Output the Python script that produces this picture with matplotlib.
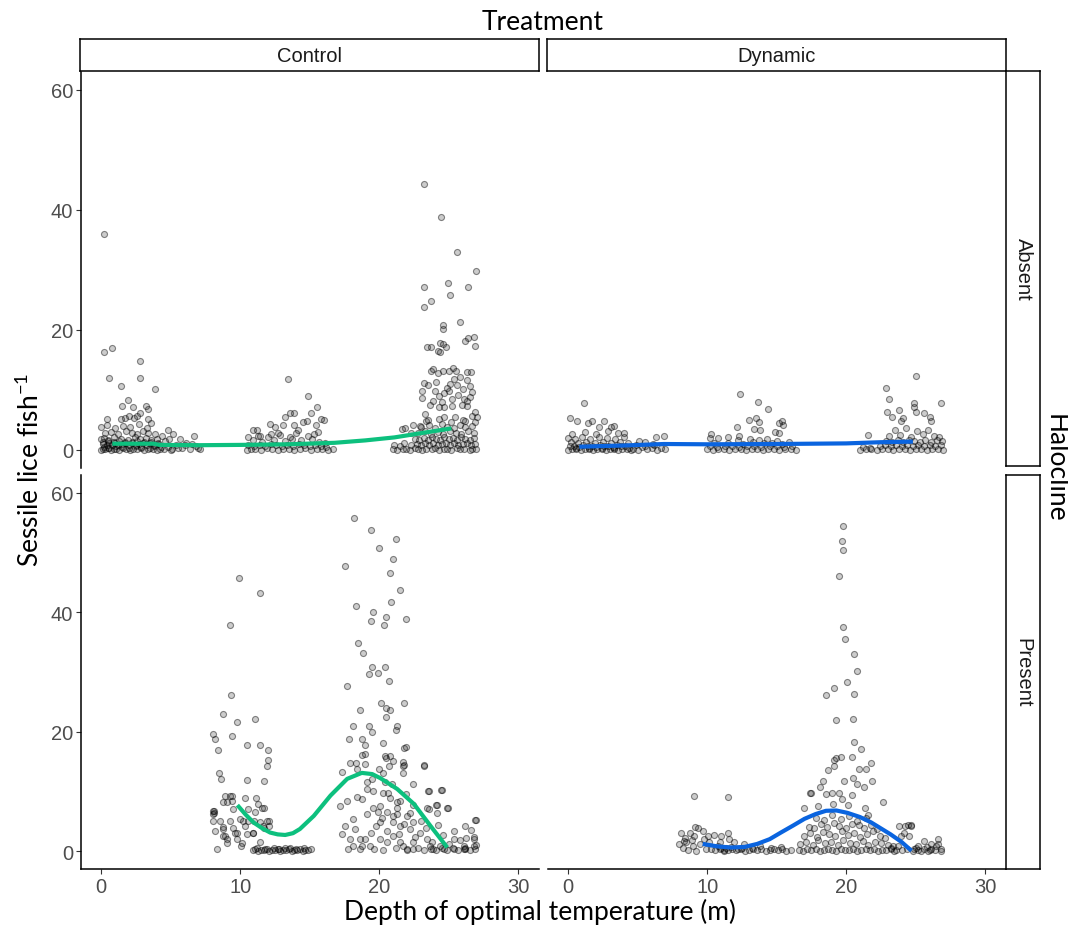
import numpy as np
import matplotlib.pyplot as plt

# ---- data: (depth, sessile lice per fish) ----
# Control / Absent
ca_x1 = [0.2, 0.2, 0.8, 0.6, 2.8, 2.8, 1.4, 3.9, 1.9, 1.5, 2.3, 3.2, 3.4, 2.8, 1.4, 1.7, 2.0, 2.35, 2.6, 0.4, 3.4, 3.6, 4.8, 5.2, 5.7, 6.7]
ca_y1 = [36.0, 16.4, 17.0, 12.0, 14.9, 12.0, 10.7, 10.1, 8.3, 7.3, 7.2, 7.3, 6.8, 6.1, 5.2, 5.4, 5.6, 5.4, 5.7, 5.2, 5.2, 4.5, 3.3, 2.6, 1.9, 2.3]
ca_x2 = [0.0, 0.1, 0.3, 0.5, 0.7, 0.9, 1.1, 1.3, 1.6, 1.8, 2.1, 2.3, 2.6, 2.9, 3.1, 3.4, 3.7, 4.0, 4.2,
         0.1, 0.4, 0.6, 0.8, 1.0, 1.2, 1.5, 1.7, 2.0, 2.2, 2.5, 2.7, 3.0, 3.3, 3.5, 3.8, 4.1,
         0.0, 0.2, 0.5, 0.9, 1.4, 1.9, 2.4, 2.8, 3.2, 3.6, 4.0,
         0.3, 0.7, 1.2, 1.8, 2.2, 2.6, 3.0, 3.4, 3.9,
         0.0, 0.4, 1.0, 1.6, 2.1, 2.7, 3.3,
         0.2, 0.6, 1.1, 1.5, 2.0, 2.5, 2.9, 3.5, 3.8, 4.3,
         0.1, 0.5, 0.9, 1.3, 1.7, 2.2, 2.6, 3.1, 3.6, 4.1]
ca_y2 = [0.0, 0.2, 0.1, 0.3, 0.0, 0.2, 0.1, 0.0, 0.3, 0.1, 0.0, 0.2, 0.1, 0.3, 0.0, 0.2, 0.1, 0.0, 0.2,
         1.0, 0.8, 1.2, 0.9, 1.1, 0.8, 1.0, 1.2, 0.9, 1.1, 0.8, 1.0, 1.2, 0.9, 1.1, 0.8, 1.0,
         1.8, 2.0, 1.6, 2.2, 1.9, 1.7, 2.1, 1.8, 2.0, 1.6, 1.9,
         2.8, 3.0, 2.6, 3.2, 2.9, 2.7, 3.1, 2.8, 2.6,
         3.9, 4.2, 3.7, 4.0, 3.8, 4.3, 3.6,
         0.5, 0.4, 0.6, 0.5, 0.4, 0.6, 0.5, 0.4, 0.6, 0.5,
         1.4, 1.5, 1.3, 1.5, 1.4, 1.3, 1.5, 1.4, 1.3, 1.2]
ca_x3 = [4.5, 4.8, 5.1, 5.4, 5.8, 6.1, 6.4, 6.8, 7.1, 4.6, 5.0, 5.5, 6.0, 6.5, 7.0, 4.4, 4.9]
ca_y3 = [0.2, 0.5, 0.1, 0.9, 0.3, 1.2, 0.1, 0.6, 0.2, 1.5, 0.0, 0.4, 0.8, 1.0, 0.3, 2.4, 1.9]
ca_x4 = [13.45, 14.85, 15.56, 13.2, 13.6, 13.9, 14.5, 14.8, 15.1, 15.85, 16.0, 12.16, 12.5, 13.07, 13.86, 14.17, 15.47, 10.9, 11.2, 10.6, 11.4, 12.2, 12.7]
ca_y4 = [11.8, 9.0, 7.2, 5.5, 6.2, 6.2, 4.6, 4.8, 6.1, 5.2, 5.0, 4.4, 3.9, 4.1, 4.1, 3.3, 4.1, 3.3, 3.4, 2.2, 2.3, 2.6, 2.9]
ca_x5 = [10.5, 10.8, 11.1, 11.5, 11.9, 12.3, 12.7, 13.1, 13.5, 13.9, 14.3, 14.7, 15.1, 15.5, 15.9, 16.3, 16.7,
         10.6, 11.0, 11.4, 11.8, 12.2, 12.6, 13.0, 13.4, 13.8, 14.2, 14.6, 15.0, 15.4, 15.8, 16.2,
         10.9, 11.6, 12.4, 13.2, 13.7, 14.4, 15.2, 15.7, 16.1,
         11.3, 12.0, 12.9, 13.6, 14.0, 14.9, 15.3, 15.6]
ca_y5 = [0.0, 0.2, 0.1, 0.0, 0.3, 0.1, 0.0, 0.2, 0.1, 0.0, 0.2, 0.3, 0.0, 0.1, 0.2, 0.0, 0.1,
         0.8, 0.6, 0.9, 0.7, 1.0, 0.8, 0.6, 0.9, 0.7, 1.0, 0.8, 0.6, 0.9, 0.7, 0.5,
         1.6, 1.4, 1.7, 1.5, 1.8, 1.6, 1.9, 1.4, 1.2,
         2.4, 2.2, 2.5, 2.1, 2.8, 2.3, 2.6, 3.0]
ca_x6 = [23.26, 24.46, 25.6, 26.96, 23.26, 24.96, 25.1, 26.4, 23.7, 23.26, 24.6, 24.6, 25.8, 24.4, 24.6, 24.8,
         23.7, 24.2, 24.4, 26.2, 26.4, 26.8, 26.9, 23.7, 23.9, 24.2, 24.6, 25.0, 25.3, 25.5, 26.3, 26.6,
         24.03, 24.27, 24.63, 24.99, 25.1, 25.59, 25.83, 26.35, 26.55, 25.23, 26.07, 26.55, 23.67, 24.27, 24.63,
         25.23, 25.95, 26.35, 26.9, 27.03, 26.67, 23.31, 23.55, 24.63, 25.47, 26.19, 22.47, 21.87, 21.63, 22.95,
         23.43, 23.1, 23.1, 23.5, 24.1, 24.9, 25.4, 26.0, 26.7, 23.9, 24.5, 25.7, 26.3, 23.2, 22.3]
ca_y6 = [44.3, 38.9, 33.0, 29.8, 27.2, 27.8, 25.9, 27.1, 24.8, 23.9, 20.9, 20.2, 21.3, 17.9, 17.7, 17.2,
         17.2, 16.5, 16.3, 18.2, 18.6, 18.8, 17.4, 13.2, 13.5, 12.8, 13.2, 13.2, 13.6, 13.2, 13.0, 13.0,
         9.9, 9.05, 9.45, 9.9, 11.0, 10.8, 12.1, 11.7, 10.6, 8.5, 8.5, 8.9, 7.5, 7.1, 7.1,
         7.4, 7.5, 7.4, 6.3, 5.45, 5.7, 6.0, 5.05, 5.45, 5.45, 4.9, 4.2, 3.6, 3.5, 4.05,
         17.2, 9.8, 8.6, 10.8, 11.4, 10.3, 11.8, 10.2, 9.6, 8.2, 8.0, 9.2, 8.1, 11.1, 2.9]
ca_x7 = [21.0, 21.3, 21.7, 21.9, 22.2, 22.6, 22.8, 23.1, 23.4, 23.8, 24.0, 24.3, 24.7, 24.9, 25.2, 25.6, 25.8, 26.1, 26.5, 26.7, 27.0,
         21.1, 21.5, 21.8, 22.3, 22.7, 23.0, 23.3, 23.6, 23.9, 24.2, 24.5, 24.8, 25.1, 25.4, 25.7, 26.0, 26.3, 26.6, 26.9,
         22.6, 22.9, 23.2, 23.5, 23.8, 24.1, 24.4, 24.7, 25.0, 25.3, 25.6, 25.9, 26.2, 26.5, 26.8,
         22.8, 23.3, 23.7, 24.2, 24.6, 25.1, 25.5, 25.9, 26.4, 26.8,
         23.0, 23.6, 24.0, 24.5, 24.9, 25.4, 25.8, 26.2, 26.7,
         23.4, 24.3, 25.2, 26.0, 26.9]
ca_y7 = [0.1, 0.0, 0.2, 0.1, 0.0, 0.3, 0.1, 0.0, 0.2, 0.1, 0.3, 0.0, 0.2, 0.1, 0.0, 0.3, 0.1, 0.2, 0.0, 0.1, 0.2,
         0.9, 0.7, 1.1, 0.8, 1.0, 0.9, 1.2, 0.8, 1.1, 0.9, 1.0, 1.2, 0.8, 1.1, 0.9, 1.0, 1.2, 0.8, 1.0,
         1.8, 1.6, 2.0, 1.7, 2.1, 1.9, 1.6, 2.2, 1.8, 2.0, 1.7, 2.1, 1.9, 1.6, 2.0,
         2.8, 3.1, 2.6, 3.0, 2.7, 3.2, 2.9, 2.6, 3.1, 2.8,
         3.8, 4.1, 3.6, 4.3, 3.9, 3.7, 4.2, 3.8, 4.0,
         4.9, 5.2, 4.7, 5.0, 4.6]

# Dynamic / Absent
da_x1 = [1.17, 0.14, 0.62, 1.72, 1.41, 2.61, 2.25, 3.33, 3.09, 4.05, 5.13, 5.56, 6.32, 6.88, 6.09]
da_y1 = [7.9, 5.4, 4.9, 4.9, 4.45, 4.9, 3.9, 4.05, 3.9, 2.8, 1.55, 1.3, 2.1, 2.3, 1.0]
da_x2 = [0.0, 0.3, 0.6, 0.9, 1.2, 1.5, 1.8, 2.1, 2.4, 2.7, 3.0, 3.3, 3.6, 3.9, 4.2, 4.5,
         0.1, 0.4, 0.8, 1.1, 1.4, 1.7, 2.0, 2.3, 2.6, 2.9, 3.2, 3.5, 3.8, 4.1,
         0.2, 0.7, 1.3, 1.9, 2.5, 3.1, 3.7, 4.3,
         0.0, 0.5, 1.0, 1.6, 2.2, 2.8, 3.4, 4.0,
         0.3, 1.2, 2.0, 2.9, 3.6,
         0.6, 1.5, 2.4, 3.3, 4.4]
da_y2 = [0.0, 0.1, 0.2, 0.0, 0.1, 0.2, 0.0, 0.1, 0.2, 0.0, 0.1, 0.2, 0.0, 0.1, 0.2, 0.0,
         0.6, 0.7, 0.5, 0.8, 0.6, 0.7, 0.5, 0.8, 0.6, 0.7, 0.5, 0.8, 0.6, 0.7,
         1.3, 1.1, 1.4, 1.2, 1.3, 1.1, 1.4, 1.2,
         2.0, 1.8, 2.1, 1.9, 2.2, 2.0, 1.8, 2.1,
         2.7, 3.0, 2.6, 3.1, 2.8,
         0.3, 0.4, 0.3, 0.4, 0.3]
da_x3 = [4.7, 5.0, 5.3, 5.7, 6.0, 6.4, 6.7, 7.0, 4.9, 5.5, 6.2]
da_y3 = [0.2, 0.0, 0.5, 0.1, 0.3, 0.0, 0.4, 0.1, 0.8, 0.6, 0.9]
da_x4 = [12.35, 13.64, 14.36, 13.0, 13.55, 13.7, 12.13, 12.3, 13.4, 13.8, 15.37, 15.15, 15.49, 14.9, 15.2, 10.2, 10.76, 11.48, 10.3]
da_y4 = [9.3, 8.05, 6.8, 5.05, 5.4, 4.7, 3.8, 2.3, 3.5, 3.4, 4.9, 4.5, 4.2, 2.95, 2.8, 1.95, 2.0, 2.1, 2.7]
da_x5 = [10.0, 10.4, 10.8, 11.2, 11.6, 12.0, 12.4, 12.8, 13.2, 13.6, 14.0, 14.4, 14.8, 15.2, 15.6, 16.0, 16.4,
         10.2, 10.7, 11.3, 11.8, 12.3, 12.9, 13.4, 13.9, 14.5, 15.0, 15.5, 16.1,
         10.5, 11.5, 12.6, 13.3, 14.1, 14.7, 15.4, 15.9,
         12.2, 13.1, 13.7, 14.3, 15.0]
da_y5 = [0.1, 0.0, 0.2, 0.1, 0.0, 0.2, 0.1, 0.0, 0.2, 0.1, 0.0, 0.2, 0.1, 0.0, 0.2, 0.1, 0.0,
         0.6, 0.5, 0.7, 0.6, 0.5, 0.7, 0.6, 0.5, 0.7, 0.6, 0.5, 0.7,
         1.1, 1.2, 1.0, 1.3, 1.1, 1.2, 1.0, 1.3,
         1.7, 1.8, 1.6, 1.9, 1.5]
da_x6 = [24.99, 22.87, 23.1, 24.9, 24.85, 25.0, 26.83, 22.94, 23.8, 24.07, 23.28, 23.95, 25.63, 26.0, 26.1, 21.55]
da_y6 = [12.4, 10.3, 8.45, 7.9, 7.1, 6.3, 7.9, 6.4, 6.7, 5.3, 5.45, 4.9, 6.2, 5.45, 4.9, 2.5]
da_x7 = [21.0, 21.4, 21.8, 22.2, 22.6, 23.0, 23.4, 23.8, 24.2, 24.6, 25.0, 25.4, 25.8, 26.2, 26.6, 27.0,
         21.2, 21.7, 22.4, 22.8, 23.2, 23.6, 24.0, 24.4, 24.8, 25.2, 25.6, 26.0, 26.4, 26.8,
         22.9, 23.3, 23.7, 24.1, 24.5, 24.9, 25.3, 25.7, 26.1, 26.5, 26.9,
         23.1, 23.9, 24.7, 25.5, 26.3, 26.7,
         23.5, 24.3, 25.1, 25.9]
da_y7 = [0.0, 0.1, 0.2, 0.0, 0.1, 0.2, 0.0, 0.1, 0.2, 0.0, 0.1, 0.2, 0.0, 0.1, 0.2, 0.0,
         0.5, 0.4, 0.6, 0.8, 0.7, 0.9, 0.6, 0.8, 0.7, 0.9, 0.6, 0.8, 0.7, 0.9,
         1.5, 1.3, 1.6, 1.4, 1.7, 1.5, 1.3, 1.6, 1.4, 1.7, 1.5,
         2.3, 2.5, 2.2, 2.6, 2.4, 2.1,
         3.3, 3.6, 3.1, 3.4]

# Control / Present
cp_x1 = [18.18, 19.4, 21.2, 20.0, 21.0, 17.55, 20.77, 9.9, 11.4, 21.5,
         20.84, 18.35, 19.57, 19.4, 20.5, 20.36, 21.96, 9.28, 18.5, 18.85,
         19.5, 19.3, 19.9, 20.45, 20.7, 17.7, 9.35, 20.1, 20.5, 20.77,
         21.8, 20.5, 18.6, 8.8, 9.8, 11.1, 18.1, 19.3, 19.5, 21.3,
         21.2, 8.08, 8.22, 9.4, 8.4, 10.5, 11.4, 12.0, 17.8, 18.8,
         19.0, 20.3, 21.8, 19.0, 12.0, 11.9, 8.46, 8.6, 10.5, 11.7,
         17.9, 18.3, 20.5, 20.8, 21.0, 21.8, 21.7, 23.2, 22.4,
         17.3, 18.4, 20.0, 20.3, 20.7]
cp_y1 = [55.8, 53.8, 52.3, 50.8, 48.9, 47.8, 46.6, 45.7, 43.3, 43.7,
         41.8, 41.0, 40.1, 38.6, 39.2, 37.9, 38.8, 37.9, 34.9, 33.2,
         30.8, 29.6, 29.8, 30.9, 28.5, 27.6, 26.1, 24.8, 23.9, 23.7,
         24.8, 22.4, 23.7, 22.9, 21.6, 22.2, 21.0, 21.0, 19.9, 20.9,
         20.3, 19.6, 18.8, 19.2, 17.0, 17.7, 17.7, 17.0, 18.8, 18.8,
         17.7, 18.1, 17.3, 16.2, 15.3, 14.3, 13.1, 12.1, 11.9, 11.7,
         14.7, 14.7, 15.6, 16.0, 15.1, 14.5, 13.0, 14.3, 11.3,
         13.2, 13.8, 13.8, 13.1, 14.2]
cp_x2 = [9.28, 8.8, 9.4, 10.36, 11.15, 11.3, 11.56, 10.6, 9.5, 8.08, 8.08, 9.28, 10.0, 8.8, 10.6, 11.0, 11.4, 11.7,
         11.9, 10.36, 9.64, 8.8, 9.76, 10.1, 9.04, 8.3, 10.96,
         8.15, 8.15, 8.03, 8.56, 8.2, 8.8, 8.94, 9.04, 9.52, 9.76, 10.24, 10.48, 10.07, 11.63, 11.44, 10.96,
         11.08, 11.68, 9.04, 8.94, 9.42, 12.04, 12.04]
cp_y2 = [9.27, 8.15, 8.4, 8.9, 8.9, 7.9, 7.3, 7.0, 7.0, 6.75, 6.2, 5.1, 5.4, 4.0, 5.1, 5.1, 4.8, 3.8,
         5.1, 4.25, 3.1, 2.6, 2.0, 1.35, 1.35, 0.3, 3.0,
         6.75, 6.3, 4.97, 4.97, 3.3, 3.7, 2.57, 2.0, 3.85, 3.1, 4.97, 2.85, 0.9, 4.25, 1.6, 2.95,
         6.5, 7.3, 8.15, 9.27, 9.27, 5.1, 4.25]
cp_x3 = [10.9, 11.1, 11.3, 11.5, 11.7, 11.9, 12.1, 12.3, 12.5, 12.7, 12.9, 13.1, 13.3, 13.5, 13.7, 13.9, 14.1,
         14.3, 14.5, 14.7, 14.9, 15.1, 11.2, 11.8, 12.4, 12.8, 13.2, 13.6, 14.0, 14.6]
cp_y3 = [0.1, 0.3, 0.0, 0.2, 0.1, 0.3, 0.0, 0.2, 0.1, 0.3, 0.0, 0.2, 0.1, 0.3, 0.0, 0.2, 0.1,
         0.3, 0.0, 0.2, 0.1, 0.3, 0.5, 0.4, 0.6, 0.4, 0.5, 0.6, 0.4, 0.5]
cp_x4 = [18.75, 20.4, 21.75, 21.75, 23.2, 21.9, 19.0,
         19.11, 19.59, 20.31, 20.67, 21.51, 21.27, 23.55, 24.51, 23.43, 24.15, 24.87, 26.91, 26.19,
         18.4, 17.68, 17.19, 17.55, 18.15, 18.27, 17.32, 17.91, 18.63, 18.99, 19.11, 19.59, 20.07,
         20.55, 21.27, 21.99, 20.07, 21.03, 21.51, 22.47, 22.23, 22.95, 21.03, 20.07, 20.55, 21.51,
         22.47, 23.43, 23.67, 24.38, 25.35, 26.07, 26.79, 26.79, 26.19, 25.35, 24.63, 23.9, 22.47,
         21.99, 21.75, 19.35, 18.76, 18.63, 18.15, 17.79, 18.76, 19.47, 20.43, 20.92, 19.11,
         23.6, 24.48, 24.08, 24.17, 24.96, 26.98, 26.83, 26.26, 23.6]
cp_y4 = [16.1, 16.0, 15.0, 14.2, 14.4, 17.4, 14.6,
         10.4, 10.1, 9.8, 9.8, 8.4, 8.15, 10.0, 10.2, 7.15, 7.7, 7.3, 5.25, 4.25,
         9.0, 8.4, 7.6, 4.25, 5.4, 3.7, 2.85, 2.0, 2.0, 2.0, 6.2, 7.3, 7.6,
         6.5, 6.2, 5.9, 4.8, 4.8, 4.25, 4.8, 3.7, 3.1, 2.6, 2.0, 1.45, 1.45,
         1.45, 2.0, 0.9, 0.9, 2.0, 0.9, 2.0, 0.9, 0.33, 0.33, 0.33, 0.33, 0.33,
         0.33, 0.9, 0.9, 0.9, 0.33, 0.9, 0.33, 8.7, 12.1, 11.5, 11.2, 11.5,
         10.0, 10.2, 7.76, 6.3, 7.2, 5.2, 2.4, 2.2, 7.0]
cp_x5 = [19.4, 19.8, 20.2, 20.6, 21.0, 21.4, 21.8, 22.2, 22.6, 23.0, 23.4, 23.8, 24.2, 24.6, 25.0, 25.4, 25.8, 26.2, 26.6, 27.0,
         19.6, 20.3, 21.2, 22.0, 22.8, 23.2, 23.7, 24.1, 24.5, 24.9, 25.3, 25.7, 26.1, 26.5, 26.9,
         21.3, 22.4, 20.8, 21.9, 19.9]
cp_y5 = [3.1, 4.2, 5.5, 3.4, 5.9, 2.9, 4.6, 6.4, 2.4, 5.1, 3.8, 1.6, 4.4, 2.7, 1.2, 3.3, 1.8, 0.6, 3.6, 1.0,
         0.4, 0.2, 0.6, 0.2, 0.5, 0.1, 0.4, 0.1, 0.6, 0.2, 0.5, 0.1, 0.4, 0.1, 0.3,
         7.2, 7.8, 8.9, 9.6, 6.6]

# Dynamic / Present
dp_x1 = [19.75, 19.7, 19.8, 19.5, 19.8, 19.9, 20.6, 20.8, 20.07, 19.1, 18.55, 20.6, 19.3, 20.5, 20.55,
         21.1, 19.3, 19.6, 19.16, 20.4, 21.8, 21.4, 20.9, 19.1, 18.7]
dp_y1 = [54.4, 52.0, 50.5, 46.0, 37.5, 35.5, 33.0, 30.2, 28.4, 27.3, 26.1, 26.3, 22.0, 22.2, 18.3,
         17.1, 15.6, 15.7, 15.3, 15.7, 14.7, 13.7, 13.8, 14.2, 13.6]
dp_x2 = [18.37, 18.15, 17.45, 19.83, 20.47, 20.76, 21.3, 21.86, 20.4, 19.47, 18.99, 18.55, 19.7, 20.1, 19.04,
         17.96, 17.0, 21.36, 21.6, 22.63, 17.4, 9.04, 11.5]
dp_y2 = [11.8, 10.8, 9.7, 11.8, 12.2, 11.3, 10.8, 11.8, 9.4, 9.8, 9.7, 9.55, 8.7, 7.7, 7.9,
         7.6, 7.15, 7.3, 6.0, 8.15, 9.65, 9.3, 9.1]
dp_x3 = [8.12, 8.73, 9.13, 9.32, 9.04, 8.48, 8.0, 8.24, 9.2, 9.8, 10.16, 10.52, 11.0, 11.53, 9.92, 10.76,
         11.36, 11.6, 11.96, 12.68, 12.2, 10.04, 8.4, 8.9, 9.5, 9.7, 10.3, 8.6, 9.0, 10.9, 11.2, 8.3]
dp_y3 = [3.0, 3.1, 4.1, 3.8, 2.45, 1.45, 1.15, 0.45, 0.0, 2.1, 1.45, 2.7, 2.55, 3.1, 0.35, 0.9,
         0.6, 2.1, 1.45, 1.15, 0.35, 2.55, 2.2, 1.9, 1.2, 3.4, 0.4, 0.2, 0.8, 1.6, 0.2, 1.7]
dp_x4 = [10.6, 10.9, 11.2, 11.5, 11.8, 12.1, 12.4, 12.7, 13.0, 13.3, 13.6, 13.9, 14.2, 14.5, 14.8, 15.1, 15.4,
         15.7, 16.0, 11.0, 11.7, 12.5, 13.2, 13.8, 14.6, 15.3]
dp_y4 = [0.1, 0.3, 0.0, 0.2, 0.4, 0.1, 0.3, 0.0, 0.2, 0.4, 0.1, 0.3, 0.0, 0.2, 0.4, 0.1, 0.3,
         0.0, 0.2, 0.6, 0.7, 0.5, 0.6, 0.8, 0.5, 0.7]
dp_x5 = [16.6, 16.9, 17.2, 17.5, 17.8, 18.1, 18.4, 18.7, 19.0, 19.3, 19.6, 19.9, 20.2, 20.5, 20.8, 21.1, 21.4,
         21.7, 22.0, 22.3, 22.6, 22.9, 23.2,
         16.7, 17.1, 17.6, 18.0, 18.5, 18.9, 19.4, 19.8, 20.3, 20.7, 21.2, 21.6, 22.1, 22.5, 23.0, 23.4,
         17.0, 17.4, 17.9, 18.3, 18.8, 19.2, 19.7, 20.1, 20.6, 21.0, 21.5, 21.9, 22.4, 22.8,
         17.3, 17.7, 18.2, 18.6, 19.1, 19.5, 20.0, 20.4, 20.9, 21.3, 21.8, 22.2,
         17.8, 18.4, 19.0, 19.6, 20.2, 20.8, 21.4]
dp_y5 = [0.2, 0.0, 0.3, 0.1, 0.4, 0.0, 0.2, 0.3, 0.1, 0.0, 0.4, 0.2, 0.1, 0.3, 0.0, 0.2, 0.4,
         0.1, 0.3, 0.0, 0.2, 0.1, 0.3,
         1.2, 1.6, 1.0, 1.8, 1.3, 1.5, 1.1, 1.9, 1.4, 1.2, 1.7, 1.0, 1.5, 1.3, 1.1, 0.9,
         2.6, 3.0, 2.4, 3.2, 2.8, 2.5, 3.3, 2.7, 3.1, 2.4, 2.9, 3.4, 2.6, 2.2,
         4.1, 3.8, 4.5, 4.0, 4.7, 4.2, 3.9, 4.6, 4.3, 3.8, 4.4, 3.7,
         5.6, 5.2, 6.0, 5.4, 5.8, 5.1, 5.5]
dp_x6 = [23.83, 24.2, 24.67, 24.43, 24.67, 24.19, 24.55, 23.95, 25.15, 25.63, 26.1, 26.6, 26.47, 26.83, 25.87,
         25.39, 24.91, 26.1, 23.71, 23.23, 23.47, 26.6,
         23.6, 24.0, 24.4, 24.8, 25.2, 25.6, 26.0, 26.4, 26.8, 25.0, 25.8]
dp_y6 = [4.25, 4.25, 4.25, 4.35, 4.35, 3.0, 2.55, 2.55, 0.9, 1.7, 1.15, 2.0, 0.9, 0.05, 0.05,
         0.05, 0.35, 0.35, 0.9, 0.6, 0.05, 1.15,
         0.2, 0.1, 0.3, 0.0, 0.2, 0.4, 0.1, 0.2, 0.4, 0.6, 0.7]

# smoothed trends
ca_fit_x = [0.8, 2.0, 3.8, 4.2, 7.0, 10.0, 13.4, 16.8, 19.0, 21.1, 23.0, 25.2]
ca_fit_y = [1.05, 1.05, 1.05, 0.85, 0.8, 0.85, 0.95, 1.2, 1.6, 2.1, 2.8, 3.6]
da_fit_x = [0.8, 4.0, 6.9, 10.0, 15.0, 20.0, 22.5, 24.8]
da_fit_y = [0.55, 0.75, 1.0, 0.95, 1.0, 1.1, 1.3, 1.4]
cp_fit_x = [9.8, 10.4, 10.96, 11.6, 12.16, 12.7, 13.24, 13.8, 14.3, 15.3, 16.5, 17.7, 18.75, 19.5, 20.1, 21.3, 22.5, 23.7, 24.9]
cp_fit_y = [7.7, 6.1, 4.8, 3.8, 3.1, 2.8, 2.7, 3.0, 3.7, 5.9, 9.3, 12.1, 13.1, 12.9, 12.2, 10.4, 7.9, 4.2, 0.6]
dp_fit_x = [9.68, 10.7, 11.7, 12.7, 13.6, 14.5, 15.3, 16.2, 17.0, 17.8, 18.55, 19.3, 20.1, 21.0, 21.8, 22.5, 23.2, 24.0, 24.7]
dp_fit_y = [1.2, 0.8, 0.6, 0.7, 1.2, 2.0, 3.1, 4.3, 5.4, 6.2, 6.75, 6.8, 6.4, 5.7, 4.8, 3.8, 2.8, 1.5, 0.05]

GREEN = '#0DC07E'
BLUE = '#0A64DF'
panels = {
    ('Control', 'Absent'): (ca_x1 + ca_x2 + ca_x3 + ca_x4 + ca_x5 + ca_x6 + ca_x7,
                            ca_y1 + ca_y2 + ca_y3 + ca_y4 + ca_y5 + ca_y6 + ca_y7, ca_fit_x, ca_fit_y, GREEN),
    ('Dynamic', 'Absent'): (da_x1 + da_x2 + da_x3 + da_x4 + da_x5 + da_x6 + da_x7,
                            da_y1 + da_y2 + da_y3 + da_y4 + da_y5 + da_y6 + da_y7, da_fit_x, da_fit_y, BLUE),
    ('Control', 'Present'): (cp_x1 + cp_x2 + cp_x3 + cp_x4 + cp_x5,
                             cp_y1 + cp_y2 + cp_y3 + cp_y4 + cp_y5, cp_fit_x, cp_fit_y, GREEN),
    ('Dynamic', 'Present'): (dp_x1 + dp_x2 + dp_x3 + dp_x4 + dp_x5 + dp_x6,
                             dp_y1 + dp_y2 + dp_y3 + dp_y4 + dp_y5 + dp_y6, dp_fit_x, dp_fit_y, BLUE),
}

W, H = 1068, 928
fig = plt.figure(figsize=(W / 100, H / 100), dpi=100)

def box(l, t, r, b):
    return [l / W, 1 - b / H, (r - l) / W, (b - t) / H]

cols = {'Control': (81, 539), 'Dynamic': (548, 1006)}
rows = {'Absent': (73, 469), 'Present': (476, 870)}
tick_font = dict(family='Liberation Sans', size=14.5, color='#4D4D4D')
title_font = ['Lato', 'DejaVu Sans']

for (trt, hal), (xs, ys, fx, fy, col) in panels.items():
    l, r = cols[trt]
    t, b = rows[hal]
    ax = fig.add_axes(box(l, t, r, b))
    ax.scatter(xs, ys, s=19, facecolors=(0, 0, 0, 0.2), edgecolors=(0, 0, 0, 0.45),
               linewidths=0.8, zorder=2)
    ax.plot(fx, fy, color=col, lw=3, solid_capstyle='butt', zorder=3)
    ax.set_xlim(-1.45, 31.5)
    ax.set_ylim(-3, 63)
    ax.set_xticks([0, 10, 20, 30])
    ax.set_yticks([0, 20, 40, 60])
    for s in ax.spines.values():
        s.set_visible(False)
    left = trt == 'Control'
    bottom = hal == 'Present'
    ax.spines['left'].set_visible(left)
    ax.spines['bottom'].set_visible(bottom)
    for s in ('left', 'bottom'):
        ax.spines[s].set_linewidth(1.1)
        ax.spines[s].set_color('black')
    ax.tick_params(axis='y', left=left, labelleft=left, length=3.5, width=0.8,
                   color='#333333', pad=2)
    ax.tick_params(axis='x', bottom=bottom, labelbottom=bottom, length=3.5, width=0.8,
                   color='#333333', pad=2.5)
    for lab in ax.get_xticklabels() + ax.get_yticklabels():
        lab.set_fontfamily(tick_font['family'])
        lab.set_fontsize(tick_font['size'])
        lab.set_color(tick_font['color'])

# strips
for name, (l, r) in cols.items():
    sa = fig.add_axes(box(l - 1, 40, r, 72))
    sa.set_xticks([]); sa.set_yticks([])
    sa.set_facecolor('white')
    for s in sa.spines.values():
        s.set_linewidth(1.1)
    sa.text(0.5, 0.5, name, ha='center', va='center', fontsize=14.5,
            family='Liberation Sans', color='#1A1A1A', transform=sa.transAxes)

strip_rows = {'Absent': (1006, 72, 1040, 467), 'Present': (1006, 476, 1040, 870)}
for name, (l, t, r, b) in strip_rows.items():
    sa = fig.add_axes(box(l, t, r, b))
    sa.set_xticks([]); sa.set_yticks([])
    for s in sa.spines.values():
        s.set_linewidth(1.1)
    sa.text(0.5, 0.5, name, ha='center', va='center', rotation=270, fontsize=14.5,
            family='Liberation Sans', color='#1A1A1A', transform=sa.transAxes)

fig.text(543 / W, 1 - 22 / H, 'Treatment', ha='center', va='center', fontsize=19, family=title_font)
fig.text(1055 / W, 1 - 468 / H, 'Halocline', ha='center', va='center', rotation=270,
         fontsize=19, family=title_font)
fig.text(30 / W, 1 - 470 / H, r'Sessile lice fish$^{\mathregular{-1}}$', ha='center', va='center',
         rotation=90, fontsize=19, family=title_font)
fig.text(540 / W, 1 - 912 / H, 'Depth of optimal temperature (m)', ha='center', va='center',
         fontsize=19, family=title_font)

fig.savefig('out.png', dpi=100)
